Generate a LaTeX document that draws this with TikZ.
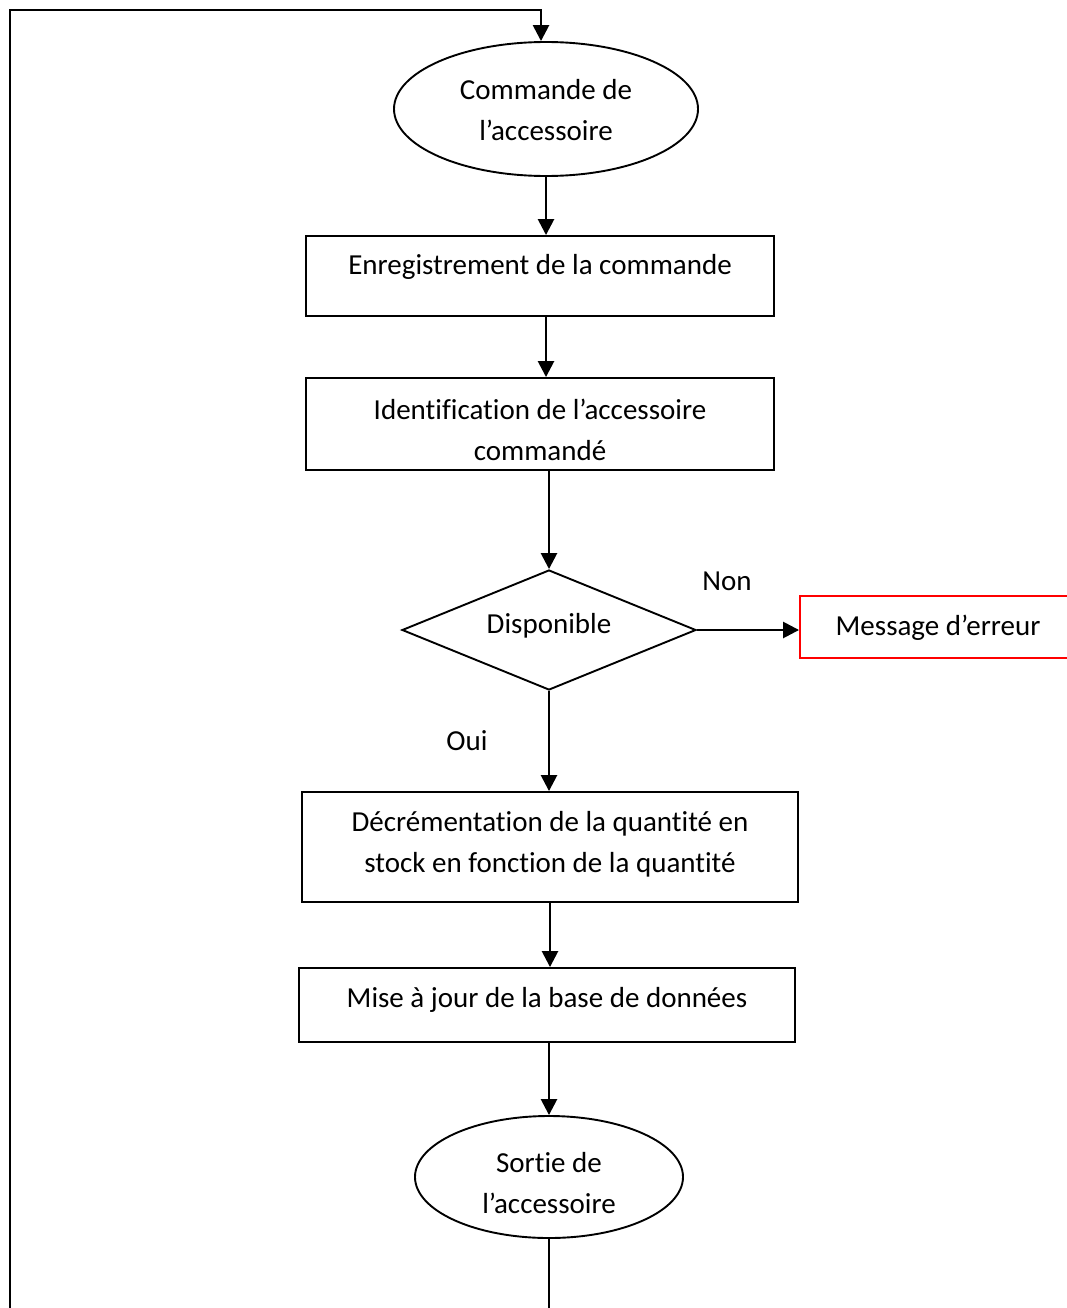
\documentclass[tikz,border=0pt]{standalone}
\usepackage{fontspec}
\setmainfont[Ligatures=NoCommon]{Carlito}
\usetikzlibrary{arrows.meta,shapes.geometric}

\tikzset{
  line/.style={line width=2.6pt, draw=black},
  arr/.style={line, -{Triangle[length=16pt,width=16pt]}},
  box/.style={draw=black, line width=1.9pt, rectangle, inner sep=0pt},
  errbox/.style={draw=red, line width=1.9pt, rectangle, inner sep=0pt},
  oval/.style={draw=black, line width=1.9pt, ellipse, inner sep=0pt},
  choice/.style={draw=black, line width=1.9pt, diamond, inner sep=0pt},
  txt/.style={font=\fontsize{29}{41}\selectfont, align=center, inner sep=0pt},
}

\begin{document}
\begin{tikzpicture}[x=1pt, y=-1pt]
  \useasboundingbox (0,0) rectangle (1067,1308);
  \clip (0,0) rectangle (1067,1308);

  % shapes
  \node[oval, minimum width=304pt, minimum height=134pt] (e1) at (546,109) {};
  \node[box, minimum width=468pt, minimum height=80pt] (b1) at (540,276) {};
  \node[box, minimum width=468pt, minimum height=92pt] (b2) at (540,424) {};
  \node[choice, minimum width=294pt, minimum height=120pt] (d) at (549,630) {};
  \node[errbox, minimum width=320pt, minimum height=62pt] (err) at (960,627) {};
  \node[box, minimum width=496pt, minimum height=110pt] (b3) at (550,847) {};
  \node[box, minimum width=496pt, minimum height=74pt] (b4) at (547,1005) {};
  \node[oval, minimum width=268pt, minimum height=122pt] (e2) at (549,1177) {};

  % texts
  \node[txt] (t1) at (546,110) {Commande de\\l’accessoire};
  \node[txt] (t2) at (540,267) {Enregistrement de la commande};
  \node[txt] (t3) at (540,430) {Identification de l’accessoire\\commandé};
  \node[txt] (t4) at (549,626) {Disponible};
  \node[txt] (t5) at (938,628) {Message d’erreur};
  \node[txt] (t6) at (550,844) {Décrémentation de la quantité en\\stock en fonction de la quantité};
  \node[txt] (t7) at (547,1000) {Mise à jour de la base de données};
  \node[txt] (t8) at (549,1183) {Sortie de\\l’accessoire};
  \node[txt] (non) at (727,581) {Non};
  \node[txt] (oui) at (467,741) {Oui};

  % connectors
  \draw[arr] (e1.south) -- (e1.south |- b1.north);
  \draw[arr] ([xshift=6pt]b1.south) -- ([xshift=6pt]b2.north);
  \draw[arr] (d.north |- b2.south) -- (d.north);
  \draw[arr] (d.east) -- (d.east -| err.west);
  \draw[arr] (d.south) -- (d.south |- b3.north);
  \draw[arr] (b3.south) -- (b3.south |- b4.north);
  \draw[arr] (b4.south -| e2.north) -- (e2.north);

  % return loop to the start
  \coordinate (loopbot) at (549,1340);
  \coordinate (looptop) at (10,10);
  \draw[arr] (e2.south) -- (e2.south |- loopbot) -- (loopbot -| looptop)
    -- (looptop) -- ([xshift=-5pt]looptop -| e1.north) -- ([xshift=-5pt]e1.north);
\end{tikzpicture}
\end{document}
